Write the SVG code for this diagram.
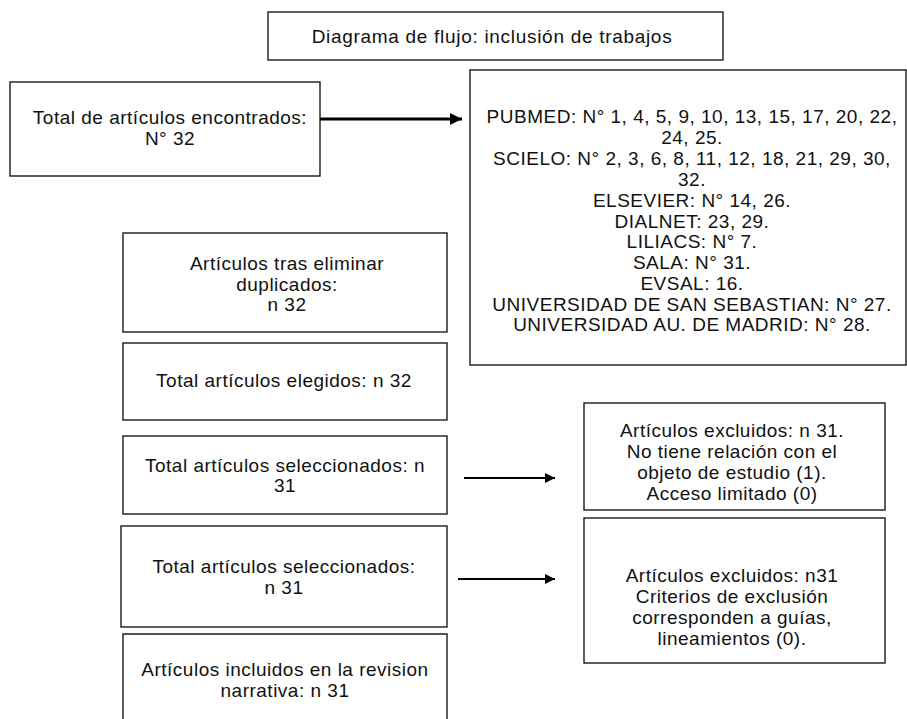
<svg xmlns="http://www.w3.org/2000/svg" width="907" height="719" viewBox="0 0 907 719">
<style>
.box{fill:#fff;stroke:#1a1a1a;stroke-width:1.4}
text{font-family:"Liberation Sans",Arial,sans-serif;font-size:19px;fill:#111;text-anchor:middle;letter-spacing:0.5px}
.thick{stroke:#000;stroke-width:3;fill:none}
.thin{stroke:#000;stroke-width:2;fill:none}
</style>
<defs>
<marker id="ah" viewBox="0 0 10 10" refX="10" refY="5" markerWidth="4" markerHeight="4" orient="auto" markerUnits="strokeWidth"><path d="M0,0 L10,5 L0,10 z" fill="#000"/></marker>
<marker id="ah2" viewBox="0 0 10 10" refX="10" refY="5" markerWidth="5" markerHeight="5" orient="auto" markerUnits="strokeWidth"><path d="M0,0 L10,5 L0,10 z" fill="#000"/></marker>
</defs>
<rect width="907" height="719" fill="#fff"/>
<g id="title"><rect class="box" x="268" y="12" width="455" height="48"/><text x="492" y="43" style="letter-spacing:0.7px">Diagrama de flujo: inclusión de trabajos</text></g>
<g id="encontrados"><rect class="box" x="10" y="82" width="310" height="94"/><text x="170" y="124">Total de artículos encontrados:</text><text x="170" y="145">N° 32</text></g>
<g id="fuentes"><rect class="box" x="470" y="70" width="436" height="295"/>
<text x="692" y="123">PUBMED: N° 1, 4, 5, 9, 10, 13, 15, 17, 20, 22,</text>
<text x="692" y="144">24, 25.</text>
<text x="692" y="165">SCIELO: N° 2, 3, 6, 8, 11, 12, 18, 21, 29, 30,</text>
<text x="692" y="186">32.</text>
<text x="692" y="206.5">ELSEVIER: N° 14, 26.</text>
<text x="692" y="227.5">DIALNET: 23, 29.</text>
<text x="692" y="248">LILIACS: N° 7.</text>
<text x="692" y="269">SALA: N° 31.</text>
<text x="692" y="290">EVSAL: 16.</text>
<text x="692" y="310.5">UNIVERSIDAD DE SAN SEBASTIAN: N° 27.</text>
<text x="692" y="331">UNIVERSIDAD AU. DE MADRID: N° 28.</text></g>
<g id="duplicados"><rect class="box" x="123" y="233" width="324" height="99"/><text x="287" y="270">Artículos tras eliminar</text><text x="287" y="290.5">duplicados:</text><text x="287" y="311">n 32</text></g>
<g id="elegidos"><rect class="box" x="123" y="343" width="324" height="77"/><text x="284" y="387">Total artículos elegidos: n 32</text></g>
<g id="seleccionados1"><rect class="box" x="123" y="436" width="324" height="78"/><text x="285" y="472">Total artículos seleccionados: n</text><text x="285" y="492">31</text></g>
<g id="seleccionados2"><rect class="box" x="121" y="526" width="326" height="101"/><text x="284" y="573">Total artículos seleccionados:</text><text x="284" y="594">n 31</text></g>
<g id="incluidos"><path class="box" d="M123,719 V634 H447 V719"/><text x="285" y="676">Artículos incluidos en la revision</text><text x="285" y="697">narrativa: n 31</text></g>
<g id="excluidos1"><rect class="box" x="584" y="403" width="301" height="107"/><text x="732" y="437">Artículos excluidos: n 31.</text><text x="732" y="458">No tiene relación con el</text><text x="732" y="479">objeto de estudio (1).</text><text x="732" y="500">Acceso limitado (0)</text></g>
<g id="excluidos2"><rect class="box" x="584" y="518" width="301" height="145"/><text x="732" y="582">Artículos excluidos: n31</text><text x="732" y="603">Criterios de exclusión</text><text x="732" y="624">corresponden a guías,</text><text x="732" y="645">lineamientos (0).</text></g>
<g id="connectors">
<line class="thick" x1="320" y1="119" x2="462" y2="119" marker-end="url(#ah)"/>
<line class="thin" x1="464" y1="478" x2="555" y2="478" marker-end="url(#ah2)"/>
<line class="thin" x1="458" y1="579" x2="555" y2="579" marker-end="url(#ah2)"/>
</g>
</svg>
